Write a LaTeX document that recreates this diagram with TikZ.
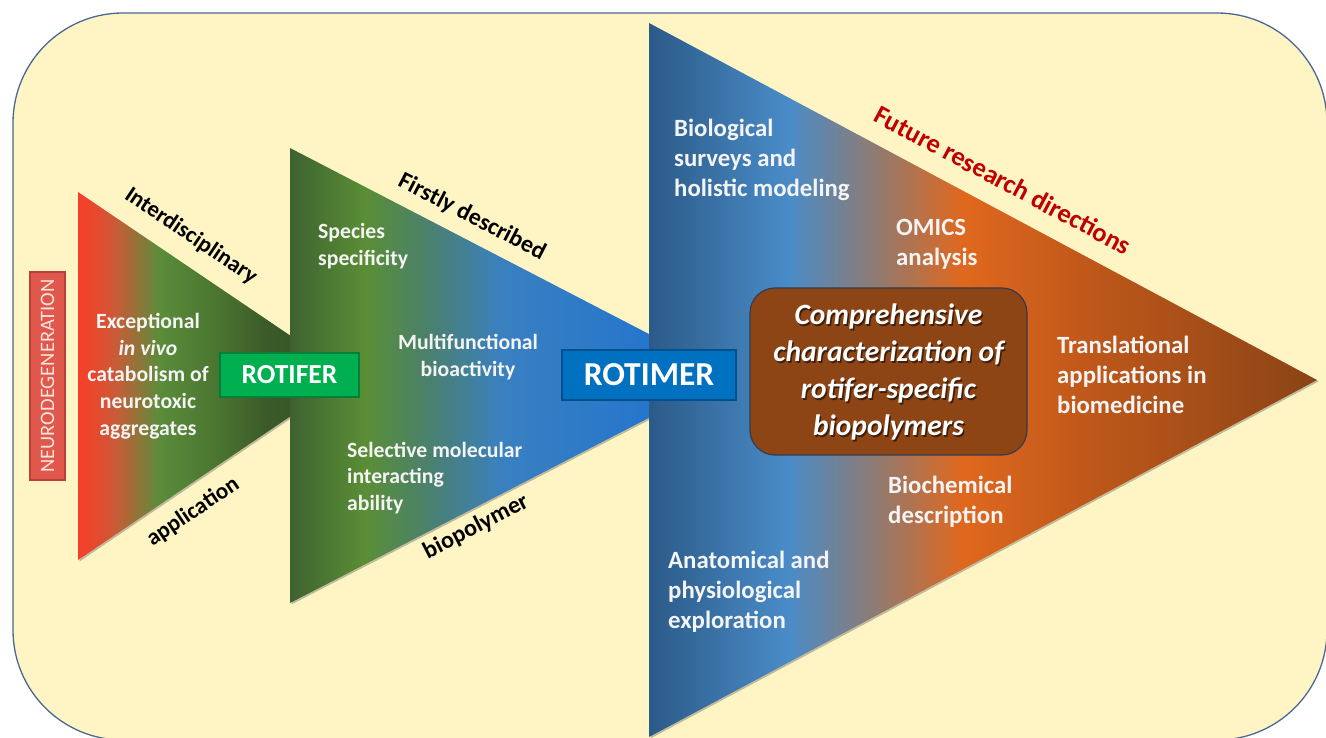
\documentclass[tikz,border=0pt]{standalone}
\usepackage{fontspec}
\setmainfont{Carlito}
\usetikzlibrary{shadows}
\definecolor{bgfill}{HTML}{FFF5C4}
\definecolor{bgline}{HTML}{4A6894}
\definecolor{tA0}{HTML}{F5402A}
\definecolor{tA1}{HTML}{E8482E}
\definecolor{tA2}{HTML}{C85C38}
\definecolor{tA3}{HTML}{5A8C3A}
\definecolor{tA4}{HTML}{4A7430}
\definecolor{tA5}{HTML}{3A5A28}
\definecolor{tA6}{HTML}{35522A}
\definecolor{tB0}{HTML}{3D6230}
\definecolor{tB1}{HTML}{5A8E35}
\definecolor{tB2}{HTML}{4A8070}
\definecolor{tB3}{HTML}{3A80C0}
\definecolor{tB4}{HTML}{2676CC}
\definecolor{tB5}{HTML}{2070C8}
\definecolor{tC0}{HTML}{2B5A88}
\definecolor{tC1}{HTML}{4A8CC8}
\definecolor{tC2}{HTML}{8A7C78}
\definecolor{tC3}{HTML}{E0681E}
\definecolor{tC4}{HTML}{C0581A}
\definecolor{tC5}{HTML}{8A4416}
\definecolor{rotgreen}{HTML}{00B050}
\definecolor{rotgreenD}{HTML}{00803A}
\definecolor{rotblue}{HTML}{0070C0}
\definecolor{rotblueD}{HTML}{00508C}
\definecolor{neured}{HTML}{E0584C}
\definecolor{neuredD}{HTML}{B8403A}
\definecolor{neutext}{HTML}{FFE4DC}
\definecolor{brownbox}{HTML}{8E4516}
\definecolor{brownline}{HTML}{343C4C}
\definecolor{futred}{HTML}{C00000}
\definecolor{wtext}{HTML}{F4F4F4}
\pgfdeclarehorizontalshading{triA}{100bp}{color(0bp)=(tA0); color(25bp)=(tA0); color(28bp)=(tA1); color(32bp)=(tA2); color(40bp)=(tA3); color(51bp)=(tA4); color(60bp)=(tA5); color(75bp)=(tA6); color(100bp)=(tA6)}
\pgfdeclarehorizontalshading{triB}{100bp}{color(0bp)=(tB0); color(25bp)=(tB0); color(33.5bp)=(tB1); color(41bp)=(tB2); color(49bp)=(tB3); color(65bp)=(tB4); color(75bp)=(tB5); color(100bp)=(tB5)}
\pgfdeclarehorizontalshading{triC}{100bp}{color(0bp)=(tC0); color(25bp)=(tC0); color(35.5bp)=(tC1); color(41.5bp)=(tC2); color(48.5bp)=(tC3); color(57.5bp)=(tC4); color(75bp)=(tC5); color(100bp)=(tC5)}
\newcommand\fsz[2]{\fontsize{#1}{#2}\selectfont}
\begin{document}
\begin{tikzpicture}[x=1pt,y=-1pt,
  wtxt/.style={text=wtext, inner sep=0pt, font=\bfseries\fsz{21.7}{26.7}},
  rtxt/.style={text=wtext, inner sep=0pt, font=\bfseries\fsz{24.8}{30}, align=left},
  btxt/.style={text=black, inner sep=0pt, font=\bfseries\fsz{23}{26}},
  tagbox/.style={draw, line width=1.2pt, inner sep=0pt, text=white, font=\bfseries},
  trishadow/.style={drop shadow={shadow xshift=1.5pt, shadow yshift=-1.5pt, opacity=0.35, fill=black!70}}
]
\useasboundingbox (0,0) rectangle (1326,738);
\clip (0,0) rectangle (1326,738);
% background
\draw[bgline, fill=bgfill, line width=1.3pt, rounded corners=110pt] (13,13) rectangle (1327,740);
% triangles
\path[trishadow, shading=triA] (78,192) -- (350,376) -- (78,560) -- cycle;
\path[trishadow, shading=triB] (290,148) -- (730,376) -- (290,603) -- cycle;
\path[trishadow, shading=triC] (649,23) -- (1317,380) -- (649,737) -- cycle;
% tags
\node[tagbox, fill=neured, draw=neuredD, rotate=90, minimum width=208, minimum height=35, text=neutext, font=\fsz{20.5}{22}] (neuro) at (47.5,376) {NEURODEGENERATION};
\node[tagbox, fill=rotgreen, draw=rotgreenD, minimum width=139, minimum height=44, font=\bfseries\fsz{27.5}{30}] (rotifer) at (289.5,375) {ROTIFER};
\node[tagbox, fill=rotblue, draw=rotblueD, minimum width=174, minimum height=50, font=\bfseries\fsz{33.5}{36}] (rotimer) at (649,375) {ROTIMER};
\node[draw=brownline, line width=1.2pt, fill=brownbox, rounded corners=25pt, minimum width=277, minimum height=167, inner sep=0pt] (central) at (888.5,371.5) {};
\node[text=black, opacity=0.55, inner sep=0pt, align=center, font=\bfseries\itshape\fsz{29.5}{37}] (centralsh) at (890,373.5) {Comprehensive\\characterization of\\rotifer-specific\\biopolymers};
\node[text=white, inner sep=0pt, align=center, font=\bfseries\itshape\fsz{29.5}{37}] (centraltxt) at (888.5,372) {Comprehensive\\characterization of\\rotifer-specific\\biopolymers};
% rotated labels
\node[btxt, rotate=-34] (inter) at (191,236) {Interdisciplinary};
\node[btxt, rotate=34] (appl) at (193,512) {application};
\node[btxt, rotate=-27.3, font=\bfseries\fsz{24}{26}] (first) at (472,217) {Firstly described};
\node[btxt, rotate=27.3, font=\bfseries\fsz{24}{26}] (biop) at (476,527) {biopolymer};
\node[btxt, text=futred, rotate=-28.1, font=\bfseries\fsz{26.5}{28}] (future) at (1003,180) {Future research directions};
% texts in triangle 1 and 2
\node[wtxt, align=center] (exc) at (148,376) {Exceptional\\\textit{in vivo}\\catabolism of\\neurotoxic\\aggregates};
\node[wtxt, align=left, anchor=west] (spec) at (318,246) {Species\\specificity};
\node[wtxt, align=center] (multi) at (468,357) {Multifunctional\\bioactivity};
\node[wtxt, align=left, anchor=west] (sel) at (347,478) {Selective molecular\\interacting\\ability};
% texts in triangle 3
\node[rtxt, anchor=west] (bio) at (674,160) {Biological\\surveys and\\holistic modeling};
\node[rtxt, anchor=west] (omics) at (896,244) {OMICS\\analysis};
\node[rtxt, anchor=west] (trans) at (1057,375) {Translational\\applications in\\biomedicine};
\node[rtxt, anchor=west] (bioch) at (888,502) {Biochemical\\description};
\node[rtxt, anchor=west] (anat) at (668,592) {Anatomical and\\physiological\\exploration};
\end{tikzpicture}
\end{document}
